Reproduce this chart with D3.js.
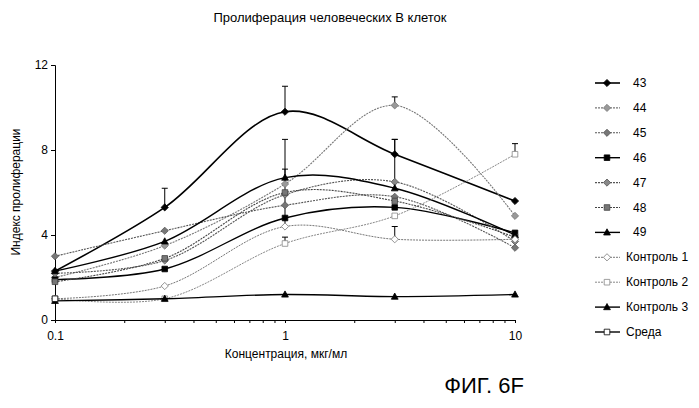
<!DOCTYPE html><html><head><meta charset="utf-8"><script src="https://d3js.org/d3.v7.min.js"></script>
<style>body{margin:0;background:#fff}text{font-family:"Liberation Sans",Arial,sans-serif}</style></head><body><svg id="c" width="699" height="408"></svg>
<script>
const xs=[0.1,0.3,1,3,10];
const names=["43","44","45","46","47","48","49","Контроль 1","Контроль 2","Контроль 3","Среда"];
const v43=[2.3,5.3,9.8,7.8,5.6];
const v44=[2.0,3.5,6.4,10.1,4.9];
const v45=[3.0,4.2,5.4,5.8,3.4];
const v46=[1.9,2.4,4.8,5.3,4.1];
const v47=[2.2,2.8,5.9,6.5,3.7];
const v48=[1.8,2.9,6.0,5.6,3.9];
const v49=[2.3,3.7,6.7,6.2,4.0];
const vK1=[1.0,1.6,4.4,3.8,3.8];
const vK2=[1.0,1.0,3.6,4.9,7.8];
const vK3=[0.9,1.0,1.2,1.1,1.2];
const vS=[1.0];
const errs=[[1,6.2],[2,11.0],[3,8.5]];
const errs49=[[2,8.5],[3,8.5]];
const errs44=[[3,10.5]];
const errsK1=[[2,7.1],[3,4.4]];
const errsK2=[[2,3.9],[4,8.3]];
const vals=[v43,v44,v45,v46,v47,v48,v49,vK1,vK2,vK3,vS];
const styles=[
 {c:"#000",w:1.6,d:null,m:"diamond",f:"#000"},
 {c:"#777",w:1.1,d:"2,1",m:"diamond",f:"#999"},
 {c:"#555",w:1.1,d:"2,1",m:"diamond",f:"#777"},
 {c:"#000",w:1.4,d:null,m:"square",f:"#000"},
 {c:"#555",w:1.1,d:"2,1",m:"diamond",f:"#888"},
 {c:"#444",w:1.1,d:"2,1",m:"square",f:"#777"},
 {c:"#000",w:1.4,d:null,m:"triangle",f:"#000"},
 {c:"#777",w:1,d:"2,1",m:"diamond",f:"#fff"},
 {c:"#888",w:1,d:"2,1",m:"square",f:"#fff"},
 {c:"#000",w:1.4,d:null,m:"triangle",f:"#000"},
 {c:"#000",w:1.4,d:null,m:"square",f:"#fff"}];
const svg=d3.select("#c");
const x=d3.scaleLog().domain([0.1,10]).range([55,515]);
const y=d3.scaleLinear().domain([0,12]).range([320,65]);
svg.append("text").attr("x",330).attr("y",22).attr("text-anchor","middle").attr("font-size",13).text("Пролиферация человеческих В клеток");
const ya=svg.append("g").attr("transform","translate(55,0)").call(d3.axisLeft(y).tickValues([0,4,8,12]).tickSize(4).tickFormat(d3.format("d")));
const xa=svg.append("g").attr("transform","translate(0,320)").call(d3.axisBottom(x).tickValues([0.1,0.2,0.3,0.4,0.5,0.6,0.7,0.8,0.9,1,2,3,4,5,6,7,8,9,10]).tickSize(3).tickFormat(d=>[0.1,1,10].includes(d)?String(d):""));
[ya,xa].forEach(a=>{a.selectAll("text").attr("font-family","Liberation Serif").attr("font-size",12).attr("fill","#000");a.select(".domain").attr("stroke","#000");});
xa.selectAll("text").attr("dy","1.2em");
svg.append("text").attr("transform","translate(20,192) rotate(-90)").attr("text-anchor","middle").attr("font-size",12).text("Индекс пролиферации");
svg.append("text").attr("x",286).attr("y",358).attr("text-anchor","middle").attr("font-size",12).text("Концентрация, мкг/мл");
svg.append("text").attr("x",484).attr("y",393).attr("text-anchor","middle").attr("font-size",22).text("ФИГ. 6F");
const line=d3.line().x(d=>x(d[0])).y(d=>y(d[1])).curve(d3.curveCatmullRom.alpha(0.5));
const shapes={diamond:"M0,-3.6L3.6,0L0,3.6L-3.6,0Z",square:"M-2.8,-2.8H2.8V2.8H-2.8Z",triangle:"M0,-3.6L3.4,2.6H-3.4Z"};
function marker(g,m,cx,cy,st){
 g.append("path").attr("d",shapes[m]).attr("transform",`translate(${cx},${cy})`).attr("fill",st.f).attr("stroke",st.c).attr("stroke-width",0.8);
}
const allErr=[[0,errs],[6,errs49],[1,errs44],[7,errsK1],[8,errsK2]];
allErr.forEach(([si,es])=>es.forEach(([i,top])=>{
 const px=x(xs[i]),py=y(vals[si][i]),pt=y(top);
 svg.append("line").attr("x1",px).attr("x2",px).attr("y1",py).attr("y2",pt).attr("stroke","#000").attr("stroke-width",1);
 svg.append("line").attr("x1",px-3).attr("x2",px+3).attr("y1",pt).attr("y2",pt).attr("stroke","#000").attr("stroke-width",1);
}));
vals.forEach((vs,si)=>{
 const st=styles[si];const pts=vs.map((v,i)=>[xs[i],v]);
 if(pts.length>1)svg.append("path").attr("d",line(pts)).attr("fill","none").attr("stroke",st.c).attr("stroke-width",st.w).attr("stroke-dasharray",st.d);
 pts.forEach(p=>marker(svg,st.m,x(p[0]),y(p[1]),st));
});
names.forEach((n,i)=>{
 const st=styles[i];const ly=83+i*24.9;
 svg.append("line").attr("x1",595).attr("x2",620).attr("y1",ly).attr("y2",ly).attr("stroke",st.c).attr("stroke-width",st.w).attr("stroke-dasharray",st.d);
 marker(svg,st.m,607,ly,st);
 svg.append("text").attr("x",n.length>2?626:633).attr("y",ly+4).attr("font-size",12).text(n);
});
</script></body></html>
